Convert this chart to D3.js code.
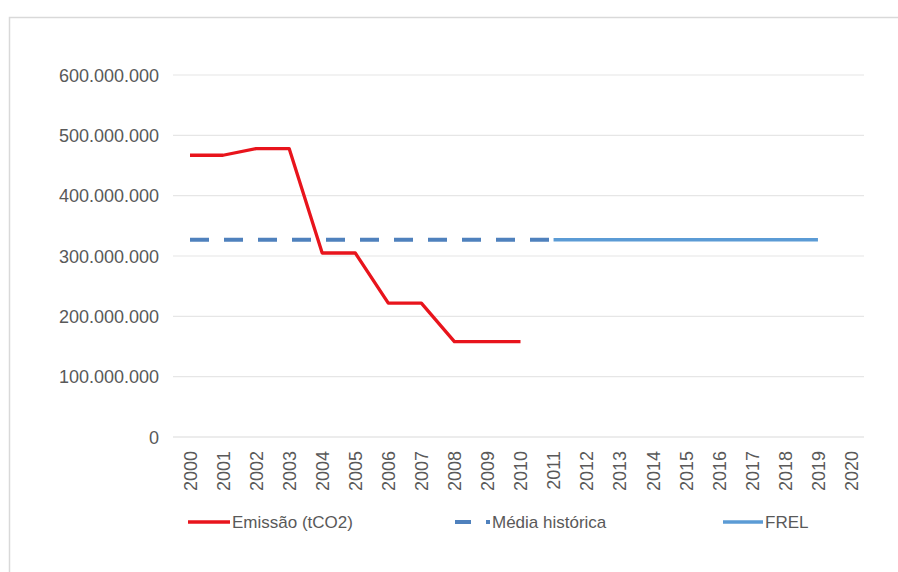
<!DOCTYPE html>
<html>
<head>
<meta charset="utf-8">
<script src="https://cdn.jsdelivr.net/npm/d3@7"></script>
<style>
  body { margin: 0; background: #fff; }
  svg { display: block; font-family: "Liberation Sans", Arial, sans-serif; }
</style>
</head>
<body>
<svg id="chart"></svg>
<script>
// Data
const years = d3.range(2000, 2021).map(String);
const emissao = [467e6, 467e6, 478e6, 478e6, 305e6, 305e6, 222e6, 222e6, 158e6, 158e6, 158e6];
const emissaoYears = years.slice(0, 11);
const mediaValue = 327e6;
const mediaYears = years.slice(0, 12);   // 2000-2011
const frelYears = years.slice(11, 20);   // 2011-2019
const yTicks = [0, 100e6, 200e6, 300e6, 400e6, 500e6, 600e6];
const legendLabels = ["Emissão (tCO2)", "Média histórica", "FREL"];

// Configurations
let width = 898;
let height = 572;
let xRange = [190, 851];
let yRange = [437, 75];
let gridLeft = 173, gridRight = 864;
let red = "#e8141c";
let blue = "#5b9bd5";
let dashBlue = "#4f81bd";
let textColor = "#595959";
let fontSize = 18;

const locale = d3.formatLocale({decimal: ",", thousands: ".", grouping: [3], currency: ["", ""]});
const fmt = locale.format(",");

const svg = d3.select("#chart")
    .attr("width", width)
    .attr("height", height)
    .attr("viewBox", [0, 0, width, height]);

// chart frame (runs off the right and bottom edges)
svg.append("rect")
    .attr("x", 9.5).attr("y", 17.5)
    .attr("width", width + 10).attr("height", height + 10)
    .attr("fill", "none")
    .attr("stroke", "#d9d9d9")
    .attr("stroke-width", 1.5);

const xScale = d3.scalePoint(years, xRange);
const yScale = d3.scaleLinear([0, 600e6], yRange);

// y axis: labels + gridlines
const yAxis = d3.axisLeft(yScale).tickValues(yTicks).tickFormat(fmt).tickSize(0).tickPadding(0);
svg.append("g")
    .attr("transform", `translate(${gridLeft - 14},0)`)
    .call(yAxis)
    .call(g => g.select(".domain").remove())
    .call(g => g.selectAll("text")
        .attr("fill", textColor)
        .attr("font-size", fontSize)
        .attr("dy", "0.35em"));

svg.append("g")
    .selectAll("line")
    .data(yTicks.filter(d => d > 0))
    .join("line")
    .attr("x1", gridLeft).attr("x2", gridRight)
    .attr("y1", d => yScale(d)).attr("y2", d => yScale(d))
    .attr("stroke", "#e6e6e6")
    .attr("stroke-width", 1.2);

// x axis
const xAxis = d3.axisBottom(xScale).tickSize(0).tickPadding(0);
svg.append("g")
    .attr("transform", `translate(0,${yScale(0)})`)
    .call(xAxis)
    .call(g => g.select(".domain")
        .attr("d", `M${gridLeft},0H${gridRight}`)
        .attr("stroke", "#d9d9d9")
        .attr("stroke-width", 1.2))
    .call(g => g.selectAll("text")
        .attr("fill", textColor)
        .attr("font-size", fontSize)
        .attr("transform", "rotate(-90)")
        .attr("text-anchor", "end")
        .attr("x", -14)
        .attr("y", 0)
        .attr("dy", "0.35em"));

// lines
const line = d3.line().x(d => xScale(d[0])).y(d => yScale(d[1]));

svg.append("path")
    .datum(mediaYears.map(y => [y, mediaValue]))
    .attr("d", line)
    .attr("fill", "none")
    .attr("stroke", dashBlue)
    .attr("stroke-width", 4)
    .attr("stroke-dasharray", "19,15");

svg.append("path")
    .datum(frelYears.map(y => [y, mediaValue]))
    .attr("d", line)
    .attr("fill", "none")
    .attr("stroke", blue)
    .attr("stroke-width", 3.5);

svg.append("path")
    .datum(emissaoYears.map((y, i) => [y, emissao[i]]))
    .attr("d", line)
    .attr("fill", "none")
    .attr("stroke", red)
    .attr("stroke-width", 3.3)
    .attr("stroke-linejoin", "round");

// legend
const legendY = 522;
const legendItems = [
    {label: legendLabels[0], x1: 188, x2: 230, color: red, dash: null, w: 3.5},
    {label: legendLabels[1], x1: 455, x2: 490, color: dashBlue, dash: "16,15", w: 4},
    {label: legendLabels[2], x1: 723, x2: 763, color: blue, dash: null, w: 3.5}
];
const lg = svg.append("g")
    .selectAll("g")
    .data(legendItems)
    .join("g");
lg.append("line")
    .attr("x1", d => d.x1).attr("x2", d => d.x2)
    .attr("y1", legendY).attr("y2", legendY)
    .attr("stroke", d => d.color)
    .attr("stroke-width", d => d.w)
    .attr("stroke-dasharray", d => d.dash);
lg.append("text")
    .attr("x", d => d.x2 + 2)
    .attr("y", legendY)
    .attr("dy", "0.35em")
    .attr("fill", textColor)
    .attr("font-size", fontSize - 1)
    .text(d => d.label);
</script>
</body>
</html>
